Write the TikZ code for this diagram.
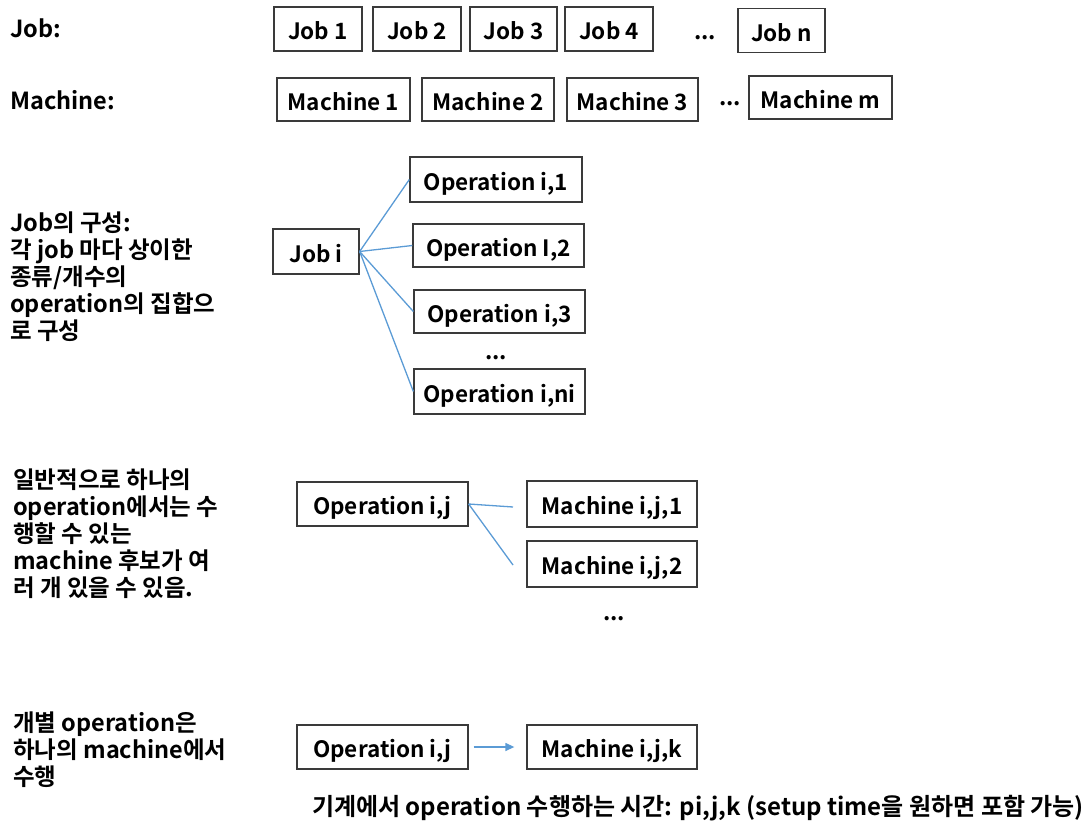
\documentclass[tikz,border=0pt]{standalone}
\usepackage{fontspec}
\setmainfont{Noto Sans CJK KR}[BoldFont={Noto Sans CJK KR Bold}]
\usetikzlibrary{arrows.meta}
\definecolor{boxline}{HTML}{3A3A3A}
\definecolor{linkblue}{HTML}{5B9BD5}
\tikzset{
  bx/.style={draw=boxline, line width=1.3pt, minimum height=44pt, inner sep=0pt,
    text height=23.5pt, text depth=2.1pt, font=\fontsize{22.5}{26}\selectfont\bfseries},
  lbl/.style={anchor=west, inner sep=0pt, align=left, font=\fontsize{23.5}{27}\selectfont\bfseries},
  dots/.style={inner sep=0pt, font=\fontsize{22.5}{26}\selectfont\bfseries},
  link/.style={draw=linkblue, line width=1.3pt},
}
\begin{document}
\begin{tikzpicture}[x=1pt,y=-1pt]
\useasboundingbox (0,0) rectangle (1090,837);
% row labels
\node[lbl] (ljob) at (10,28) {Job:};
\node[lbl] (lmach) at (10,100) {Machine:};
% jobs
\node[bx, minimum width=88pt] (j1) at (318,29) {Job 1};
\node[bx, minimum width=88pt] (j2) at (417,29) {Job 2};
\node[bx, minimum width=87pt] (j3) at (513.5,29) {Job 3};
\node[bx, minimum width=88pt] (j4) at (609,29) {Job 4};
\node[dots] (jd) at (705,38) {...};
\node[bx, minimum width=87pt] (jn) at (781.5,30.5) {Job n};
% machines
\node[bx, minimum width=133pt, minimum height=43pt] (m1) at (343.5,99.5) {Machine 1};
\node[bx, minimum width=132pt, minimum height=43pt] (m2) at (488,99.5) {Machine 2};
\node[bx, minimum width=131pt, minimum height=43pt] (m3) at (632.5,99.5) {Machine 3};
\node[dots] (md) at (730,104) {...};
\node[bx, minimum width=143pt, minimum height=43pt] (mm) at (820.5,97.5) {Machine m};
% job composition
\node[lbl] (l1) at (10,277) {Job의 구성:\\각 job 마다 상이한\\종류/개수의\\operation의 집합으\\로 구성};
\node[bx, minimum width=86pt, minimum height=45pt] (ji) at (316,251.5) {Job i};
\node[bx, minimum width=172pt, minimum height=45pt] (o1) at (496,179.5) {Operation i,1};
\node[bx, minimum width=171pt, minimum height=43pt] (o2) at (498.5,245.5) {Operation I,2};
\node[bx, minimum width=171pt, minimum height=43pt] (o3) at (499.5,311.5) {Operation i,3};
\node[dots] (od) at (496,358) {...};
\node[bx, minimum width=171pt, minimum height=45pt] (on) at (499.5,391.5) {Operation i,ni};
\draw[link] (ji.east) -- (o1.west);
\draw[link] (ji.east) -- (o2.west);
\draw[link] (ji.east) -- (o3.west);
\draw[link] (ji.east) -- (on.west);
% candidate machines
\node[lbl] (l2) at (13,533.5) {일반적으로 하나의\\operation에서는 수\\행할 수 있는\\machine 후보가 여\\러 개 있을 수 있음.};
\node[bx, minimum width=171pt] (oij) at (382.5,504) {Operation i,j};
\node[bx, minimum width=170pt, minimum height=46pt] (mc1) at (612,504) {Machine i,j,1};
\node[bx, minimum width=170pt, minimum height=46pt] (mc2) at (612,564) {Machine i,j,2};
\node[dots] (mcd) at (614,619) {...};
\coordinate (e1) at (513,507);
\coordinate (e2) at (513,565);
\draw[link] (oij.east) -- (e1);
\draw[link] (oij.east) -- (e2);
% single assignment
\node[lbl] (l3) at (13,749.5) {개별 operation은\\하나의 machine에서\\수행};
\node[bx, minimum width=171pt] (oij2) at (382.5,747) {Operation i,j};
\node[bx, minimum width=170pt] (mk) at (612,747) {Machine i,j,k};
\draw[link, -{Triangle[length=9pt,width=8pt]}, shorten <=5pt, shorten >=12pt] (oij2.east) -- (mk.west);
\node[lbl, anchor=center, font=\fontsize{24}{27}\selectfont\bfseries] (bt) at (698,808) {기계에서 operation 수행하는 시간: pi,j,k (setup time을 원하면 포함 가능)};
\end{tikzpicture}
\end{document}
